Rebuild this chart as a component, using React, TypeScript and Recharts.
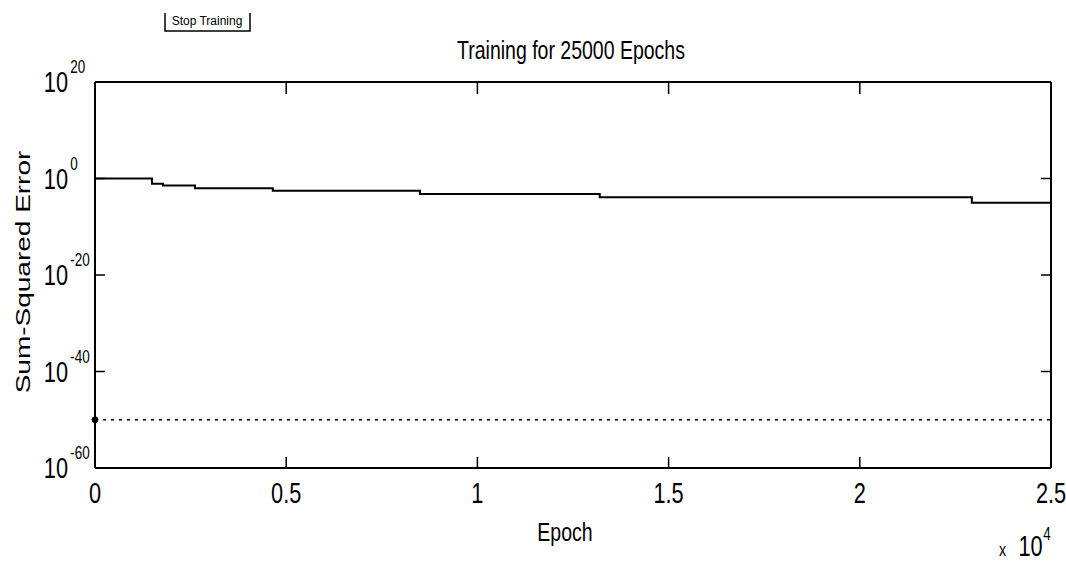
import React from 'react';
import { LineChart, Line, XAxis, YAxis, ReferenceDot } from 'recharts';

// values (epochs, sum-squared error)
const epochs = [0, 1490, 1780, 2615, 4650, 8500, 13200, 22930, 25000];
const sse = [1, 0.08, 0.035, 0.01, 0.003, 0.0006, 0.00013, 0.00001, 0.00001];
const goalEpochs = [0, 25000];
const goalValue = 1e-50;

const xTicks = [0, 5000, 10000, 15000, 20000, 25000];
const xTickLabels = ['0', '0.5', '1', '1.5', '2', '2.5'];
const yTicks = [1e-60, 1e-40, 1e-20, 1, 1e20];

const title = 'Training for 25000 Epochs';
const xLabel = 'Epoch';
const yLabel = 'Sum-Squared Error';
const buttonLabel = 'Stop Training';

const FONT = '"Liberation Sans", Arial, Helvetica, sans-serif';
const W = 1066;
const H = 565;

const lineData = epochs.map((e, i) => ({ epoch: e, sse: sse[i] }));
const goalData = goalEpochs.map(e => ({ epoch: e, goal: goalValue }));

function BottomTick({ x, y, payload }: any) {
    const i = xTicks.indexOf(payload.value);
    return (
        <g>
            <line x1={x} y1={y} x2={x} y2={y - 11} stroke="#000" strokeWidth={1.5} />
            <g transform={`translate(${x},${y + 35}) scale(0.75,1)`}>
                <text textAnchor="middle" fontSize={29} fill="#000" fontFamily={FONT}>{xTickLabels[i]}</text>
            </g>
        </g>
    );
}

function TopTick({ x, y }: any) {
    return <line x1={x} y1={y} x2={x} y2={y + 12} stroke="#000" strokeWidth={1.5} />;
}

function LeftTick({ x, y, payload }: any) {
    const exp = Math.round(Math.log10(payload.value));
    return (
        <g>
            <line x1={x} y1={y} x2={x + 10} y2={y} stroke="#000" strokeWidth={1.5} />
            <g transform={`translate(${x - 27},${y}) scale(0.75,1)`}>
                <text textAnchor="end" y={10} fontSize={29} fill="#000" fontFamily={FONT}>10</text>
                <text x={3} y={-9} fontSize={18} fill="#000" fontFamily={FONT}>{exp}</text>
            </g>
        </g>
    );
}

function RightTick({ x, y }: any) {
    return <line x1={x} y1={y} x2={x - 10} y2={y} stroke="#000" strokeWidth={1.5} />;
}

const axisLine = { stroke: '#000', strokeWidth: 2 };

export default function App() {
    return (
        <div style={{ position: 'absolute', left: 0, top: 0, width: W, height: H, background: '#fff' }}>
            <LineChart width={W} height={H} margin={{ top: 81, right: 14, left: 0, bottom: 0 }}>
                <XAxis
                    type="number"
                    dataKey="epoch"
                    domain={[0, 25000]}
                    ticks={xTicks}
                    interval={0}
                    height={97}
                    tickSize={0}
                    tickMargin={0}
                    tickLine={false}
                    axisLine={axisLine}
                    tick={<BottomTick />}
                />
                <XAxis
                    xAxisId="top"
                    orientation="top"
                    type="number"
                    dataKey="epoch"
                    domain={[0, 25000]}
                    ticks={xTicks}
                    interval={0}
                    height={1}
                    tickSize={0}
                    tickMargin={0}
                    tickLine={false}
                    axisLine={axisLine}
                    tick={<TopTick />}
                />
                <YAxis
                    scale="log"
                    type="number"
                    domain={[1e-60, 1e20]}
                    allowDataOverflow
                    ticks={yTicks}
                    interval={0}
                    width={95}
                    tickSize={0}
                    tickMargin={0}
                    tickLine={false}
                    axisLine={axisLine}
                    tick={<LeftTick />}
                />
                <YAxis
                    yAxisId="right"
                    orientation="right"
                    scale="log"
                    type="number"
                    domain={[1e-60, 1e20]}
                    allowDataOverflow
                    ticks={yTicks}
                    interval={0}
                    width={1}
                    tickSize={0}
                    tickMargin={0}
                    tickLine={false}
                    axisLine={axisLine}
                    tick={<RightTick />}
                />
                <Line
                    data={lineData}
                    dataKey="sse"
                    type="stepAfter"
                    stroke="#000"
                    strokeWidth={2}
                    dot={false}
                    isAnimationActive={false}
                />
                <Line
                    data={goalData}
                    dataKey="goal"
                    xAxisId="top"
                    yAxisId="right"
                    type="linear"
                    stroke="#000"
                    strokeWidth={1.3}
                    strokeDasharray="3 5"
                    dot={false}
                    isAnimationActive={false}
                />
                <ReferenceDot x={0} y={goalValue} r={3} fill="#000" stroke="#000" />

                {/* title and axis labels, text squeezed like the scanned original */}
                <g transform="translate(571,59) scale(0.75,1)">
                    <text textAnchor="middle" fontSize={26} fill="#000" fontFamily={FONT}>{title}</text>
                </g>
                <g transform="translate(565,541) scale(0.75,1)">
                    <text textAnchor="middle" fontSize={26} fill="#000" fontFamily={FONT}>{xLabel}</text>
                </g>
                <g transform="translate(22,272) rotate(-90) scale(1,0.75)">
                    <text textAnchor="middle" dy="0.36em" fontSize={28} fill="#000" fontFamily={FONT}>{yLabel}</text>
                </g>
                <g transform="translate(999,556) scale(0.75,1)">
                    <text fontSize={19} fill="#000" fontFamily={FONT}>x</text>
                    <text x={26} fontSize={29} fill="#000" fontFamily={FONT}>10</text>
                    <text x={59} y={-16} fontSize={18} fill="#000" fontFamily={FONT}>4</text>
                </g>

                {/* clipped "Stop Training" button at top left */}
                <path d="M165,13 L165,31 L250,31 L250,13" fill="none" stroke="#000" strokeWidth={1.5} />
                <text x={207} y={25} textAnchor="middle" fontSize={12} fill="#000" fontFamily={FONT}>{buttonLabel}</text>
            </LineChart>
        </div>
    );
}
